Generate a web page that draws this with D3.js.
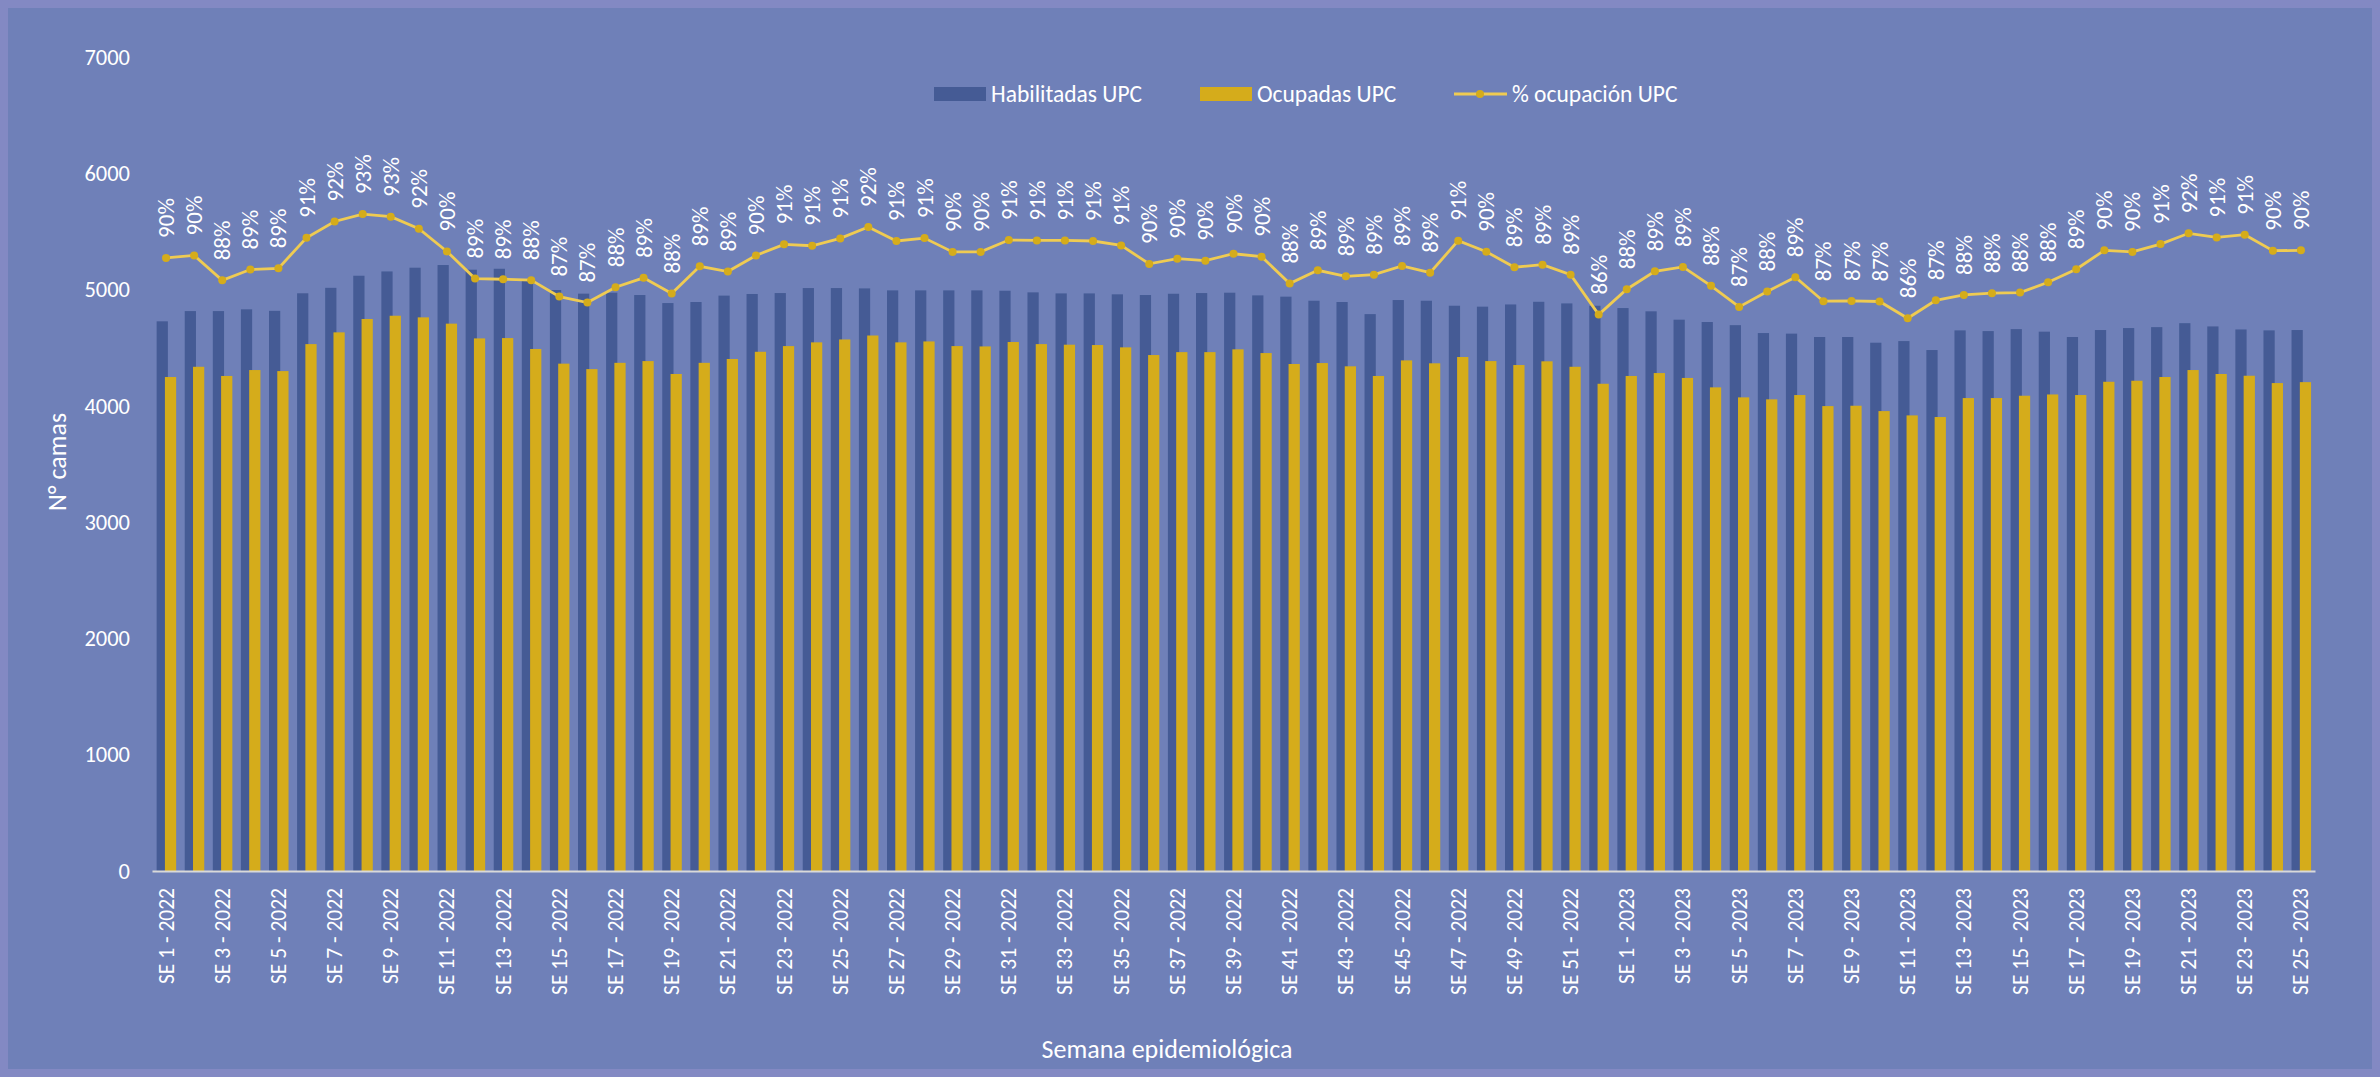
<!DOCTYPE html>
<html>
<head>
<meta charset="utf-8">
<script src="https://cdn.jsdelivr.net/npm/d3@7"></script>
<style>
  body { margin: 0; background: #8389c3; }
  #chart text { font-family: Carlito, Lato, "Open Sans", sans-serif; fill: #ffffff; }
</style>
</head>
<body>
<div id="chart"></div>
<script>
// ── Datos ─────────────────────────────────────────────
const semanas2022 = d3.range(1, 53).map(w => `SE ${w} - 2022`);
const semanas2023 = d3.range(1, 26).map(w => `SE ${w} - 2023`);
const semanas = semanas2022.concat(semanas2023);

const habilitadas = [
    4727, 4815, 4815, 4830, 4817, 4968, 5015, 5119, 5156, 5188, 5211, 5171, 5179,
    5074, 4996, 4965, 4973, 4953, 4884, 4893, 4948, 4962, 4970, 5013, 5013, 5010,
    4993, 4993, 4993, 4993, 4990, 4976, 4967, 4967, 4959, 4953, 4964, 4970, 4973,
    4950, 4939, 4904, 4893, 4789, 4910, 4904, 4861, 4853, 4872, 4895, 4881, 4861,
    // 2023
    4841, 4813, 4741, 4721, 4694, 4626, 4621, 4592, 4592, 4543, 4557, 4480, 4649,
    4643, 4660, 4638, 4592, 4652, 4669, 4677, 4711, 4683, 4657, 4649, 4652
];

const ocupadas = [
    4248, 4336, 4257, 4308, 4299, 4531, 4632, 4747, 4775, 4761, 4707, 4580, 4583,
    4489, 4363, 4316, 4370, 4385, 4274, 4370, 4403, 4465, 4514, 4546, 4571, 4605,
    4546, 4554, 4514, 4511, 4549, 4531, 4526, 4523, 4503, 4437, 4462, 4462, 4486,
    4454, 4360, 4368, 4340, 4257, 4391, 4366, 4420, 4385, 4351, 4383, 4336, 4190,
    // 2023
    4257, 4282, 4240, 4159, 4073, 4056, 4093, 3998, 4001, 3955, 3918, 3904, 4067,
    4067, 4087, 4098, 4093, 4207, 4216, 4248, 4308, 4274, 4259, 4196, 4204
];

const ocupacion = [
    0.8992, 0.9008, 0.8846, 0.8916, 0.8924, 0.9123, 0.9229, 0.9277, 0.9260, 0.9182,
    0.9034, 0.8857, 0.8853, 0.8847, 0.8740, 0.8701, 0.8801, 0.8862, 0.8760, 0.8937,
    0.8903, 0.9008, 0.9080, 0.9071, 0.9119, 0.9193, 0.9102, 0.9121, 0.9031, 0.9031,
    0.9108, 0.9106, 0.9106, 0.9102, 0.9073, 0.8953, 0.8987, 0.8974, 0.9019, 0.9000,
    0.8825, 0.8911, 0.8872, 0.8883, 0.8940, 0.8896, 0.9104, 0.9032, 0.8931, 0.8948,
    0.8883, 0.8623,
    // 2023
    0.8788, 0.8905, 0.8933, 0.8810, 0.8673, 0.8773, 0.8866, 0.8710, 0.8712, 0.8708,
    0.8599, 0.8716, 0.8751, 0.8762, 0.8766, 0.8833, 0.8918, 0.9041, 0.9031, 0.9082,
    0.9152, 0.9125, 0.9143, 0.9039, 0.9041
];

const yTicks = [0, 1000, 2000, 3000, 4000, 5000, 6000, 7000];

const series = [
    { name: 'Habilitadas UPC', color: '#455b95' },
    { name: 'Ocupadas UPC',    color: '#d5ac1b' },
    { name: '% ocupación UPC', color: '#efcb52' }
];

// ── Layout ────────────────────────────────────────────
const W = 2380, H = 1077;
const plot = { left: 152, right: 2315, top: 57, bottom: 871 };
const bg = '#6f80b8', frame = '#8389c3';

const svg = d3.select('#chart').append('svg')
    .attr('width', W).attr('height', H)
    .style('display', 'block');

svg.append('rect').attr('width', W).attr('height', H).attr('fill', frame);
svg.append('rect').attr('x', 8).attr('y', 8)
    .attr('width', W - 16).attr('height', H - 16).attr('fill', bg);

const x = d3.scaleBand().domain(semanas).range([plot.left, plot.right]).padding(0);
const y = d3.scaleLinear().domain([0, 7000]).range([plot.bottom, plot.top]);
const yPct = d3.scaleLinear().domain([0.5, 1.03]).range([plot.bottom, plot.top]);

const step = x.step();
const bw = step * 0.40;
const cx = d => x(d) + step / 2;

// ── Barras ────────────────────────────────────────────
const rows = semanas.map((s, i) => ({ s, hab: habilitadas[i], ocu: ocupadas[i], pct: ocupacion[i] }));

svg.append('g').selectAll('rect').data(rows).join('rect')
    .attr('x', d => cx(d.s) - step * 0.335)
    .attr('y', d => y(d.hab))
    .attr('width', bw)
    .attr('height', d => y(0) - y(d.hab))
    .attr('fill', series[0].color);

svg.append('g').selectAll('rect').data(rows).join('rect')
    .attr('x', d => cx(d.s) - step * 0.04)
    .attr('y', d => y(d.ocu))
    .attr('width', bw)
    .attr('height', d => y(0) - y(d.ocu))
    .attr('fill', series[1].color);

// ── Ejes ──────────────────────────────────────────────
const yAxis = svg.append('g')
    .attr('transform', `translate(${plot.left},0)`)
    .call(d3.axisLeft(y).tickValues(yTicks).tickSize(0).tickPadding(22).tickFormat(d3.format('d')));
yAxis.select('.domain').remove();
yAxis.selectAll('text').style('font-size', '22.5px');

const xAxis = svg.append('g')
    .attr('transform', `translate(0,${plot.bottom})`)
    .call(d3.axisBottom(x).tickValues(semanas.filter((s, i) => i % 2 === 0)).tickSize(0));
xAxis.select('.domain').attr('stroke', '#d9d9d9').attr('stroke-width', 2);
xAxis.selectAll('text')
    .style('font-size', '21.5px')
    .attr('transform', 'rotate(-90)')
    .attr('text-anchor', 'end')
    .attr('x', -17).attr('y', 0).attr('dy', '0.35em');

// ── Línea % ocupación ────────────────────────────────
const line = d3.line().x(d => cx(d.s)).y(d => yPct(d.pct));
svg.append('path').datum(rows)
    .attr('d', line)
    .attr('fill', 'none')
    .attr('stroke', series[2].color)
    .attr('stroke-width', 2.8);

svg.append('g').selectAll('circle').data(rows).join('circle')
    .attr('cx', d => cx(d.s)).attr('cy', d => yPct(d.pct))
    .attr('r', 4)
    .attr('fill', '#d5ac1b');

const fmt = d3.format('.0%');
svg.append('g').selectAll('text').data(rows).join('text')
    .attr('transform', d => `translate(${cx(d.s)},${yPct(d.pct) - 20}) rotate(-90)`)
    .attr('text-anchor', 'start')
    .attr('dy', '0.35em')
    .style('font-size', '23px')
    .text(d => fmt(d.pct));

// ── Títulos de ejes ──────────────────────────────────
svg.append('text')
    .attr('transform', 'translate(57,462) rotate(-90)')
    .attr('text-anchor', 'middle').attr('dy', '0.35em')
    .style('font-size', '26px')
    .text('N° camas');

svg.append('text')
    .attr('x', 1167).attr('y', 1049)
    .attr('text-anchor', 'middle').attr('dy', '0.35em')
    .style('font-size', '26px')
    .text('Semana epidemiológica');

// ── Leyenda ───────────────────────────────────────────
const legY = 94;
const leg = svg.append('g');
leg.append('rect').attr('x', 934).attr('y', legY - 7).attr('width', 52).attr('height', 14).attr('fill', series[0].color);
leg.append('text').attr('x', 991).attr('y', legY).attr('dy', '0.35em').style('font-size', '23.5px').text(series[0].name);
leg.append('rect').attr('x', 1200).attr('y', legY - 7).attr('width', 52).attr('height', 14).attr('fill', series[1].color);
leg.append('text').attr('x', 1257).attr('y', legY).attr('dy', '0.35em').style('font-size', '23.5px').text(series[1].name);
leg.append('line').attr('x1', 1454).attr('x2', 1507).attr('y1', legY).attr('y2', legY)
    .attr('stroke', series[2].color).attr('stroke-width', 2.8);
leg.append('circle').attr('cx', 1480).attr('cy', legY).attr('r', 4).attr('fill', '#d5ac1b');
leg.append('text').attr('x', 1512).attr('y', legY).attr('dy', '0.35em').style('font-size', '23.5px').text(series[2].name);
</script>
</body>
</html>
